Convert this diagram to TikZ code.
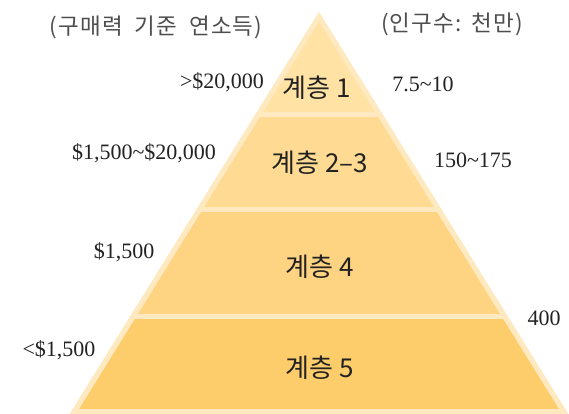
\documentclass[tikz,border=0pt]{standalone}
\usepackage{fontspec}
\setmainfont{Liberation Serif}
\newfontfamily\kr{Noto Sans CJK KR}
\newfontfamily\krw[LetterSpace=5]{Noto Sans CJK KR}
\definecolor{bandc}{HTML}{FFE9C0}
\definecolor{layA}{HTML}{FFE2A4}
\definecolor{layB}{HTML}{FFDA92}
\definecolor{layC}{HTML}{FED382}
\definecolor{layD}{HTML}{FECD6B}
\definecolor{txt}{HTML}{222222}
\newcommand{\tld}{\char126\relax}
\tikzset{
  tier/.style={font=\kr\fontsize{26}{28}\selectfont, text=txt, inner sep=0pt},
  head/.style={font=\krw\fontsize{22.5}{24}\selectfont, text=txt!80, inner sep=0pt},
  num/.style={font=\fontsize{22}{24}\selectfont, text=txt, inner sep=0pt},
}
\begin{document}
\begin{tikzpicture}[x=1pt,y=-1pt]
\useasboundingbox (0,0) rectangle (569,414);
\coordinate (apex) at (319,12);
\coordinate (bl) at (70,414);
\coordinate (br) at (568,414);
\begin{scope}
  \clip (apex) -- (bl) -- (br) -- cycle;
  \fill[layA] (0,0) rectangle (569,115);
  \fill[layB] (0,115) rectangle (569,209);
  \fill[layC] (0,209) rectangle (569,316);
  \fill[layD] (0,316) rectangle (569,414);
  \draw[bandc, line width=5pt] (0,115) -- (569,115);
  \draw[bandc, line width=5pt] (0,209) -- (569,209);
  \draw[bandc, line width=5pt] (0,316) -- (569,316);
  \draw[bandc, line width=10pt, line join=miter] (apex) -- (bl) -- (br) -- cycle;
\end{scope}
\node[head] (h1) at (156,27) {(구매력\hspace{12pt}기준\hspace{12pt}연소득)};
\node[head] (h2) at (452,24) {(인구수:\hspace{10pt}천만)};
\node[tier] (t1) at (317,88) {계층 1};
\node[tier] (t2) at (320,163) {계층 2–3};
\node[tier] (t4) at (320,267) {계층 4};
\node[tier] (t5) at (320,368) {계층 5};
\node[num] (n1) at (222,82) {>\$20,000};
\node[num] (n2) at (144,153) {\$1,500\tld\$20,000};
\node[num] (n4) at (124,252) {\$1,500};
\node[num] (n5) at (59,350) {<\$1,500};
\node[num] (p1) at (423,84) {7.5\tld 10};
\node[num] (p2) at (473,160) {150\tld 175};
\node[num] (p4) at (544,318) {400};
\end{tikzpicture}
\end{document}
